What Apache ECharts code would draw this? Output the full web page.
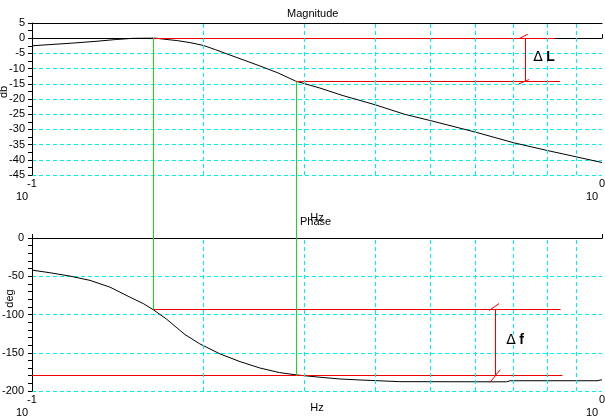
<!DOCTYPE html>
<html><head><meta charset="utf-8">
<script src="https://cdn.jsdelivr.net/npm/echarts@6/dist/echarts.min.js"></script>
<style>html,body{margin:0;padding:0;background:#fff}#c{width:605px;height:420px}</style>
</head><body><div id="c"></div>
<script>
// ---- data ----
const magFreq = [0.1, 0.1075, 0.118, 0.13, 0.14, 0.15, 0.16, 0.165, 0.17, 0.18, 0.19, 0.2, 0.21, 0.22, 0.25, 0.27, 0.29, 0.32, 0.35, 0.4, 0.45, 0.5, 0.6, 0.7, 0.8, 0.9, 1.0];
const magDb   = [-2.5, -2.1, -1.6, -1.0, -0.45, -0.05, 0, 0, -0.3, -0.8, -1.5, -2.4, -3.8, -5.2, -9.0, -11.4, -14.1, -16.4, -18.8, -21.9, -25.0, -27.1, -30.9, -34.4, -36.9, -39.0, -40.9];
const phaseFreq = [0.1, 0.1075, 0.1166, 0.1264, 0.137, 0.1485, 0.157, 0.163, 0.172, 0.179, 0.1855, 0.197, 0.2137, 0.2317, 0.251, 0.272, 0.291, 0.32, 0.347, 0.376, 0.442, 0.68, 0.69, 0.98, 1.0];
const phaseDeg  = [-42, -45.4, -49.8, -55.4, -64.2, -77.3, -86, -93.5, -105.7, -116.6, -126.2, -138.4, -151.5, -161.6, -169.9, -176, -179, -182, -184.3, -185.6, -187.8, -188, -186.6, -186.6, -185.3];
const gridFreq = [0.2, 0.3, 0.4, 0.5, 0.6, 0.7, 0.8, 0.9];
const magAxis = [-45, 5, 5];      // min, max, step
const phaseAxis = [-200, 0, 50];
const titles = ['Magnitude', 'Phase'];
const axisNames = ['db', 'deg', 'Hz'];
// annotations (data values)
const crossFreq = [0.163, 0.291];
const magRef = [0, -14.2];
const magRefEnd = [0.827, 0.844];
const deltaLFreq = 0.733;
const deltaLSlash = [[[0.718, 0], [0.741, 1.3]], [[0.715, -15], [0.745, -13.6]]];
const phaseRef = [-93.4, -180];
const phaseRefStart = [0.163, 0.1];
const phaseRefEnd = [0.846, 0.852];
const deltaFFreq = 0.651;
const deltaFSlash = [[[0.634, -94.8], [0.660, -85.6]], [[0.636, -188.7], [0.663, -172]]];
const deltaLText = [0.791, -6.2, 'L'];
const deltaFText = [0.704, -134, 'f'];

// ---- chart ----
const FONT = '"Liberation Sans", Arial, sans-serif';
const cyan = '#00f0f0', red = '#ee0000', green = '#11dd11';
const chart = echarts.init(document.getElementById('c'));

const seg = (a, b) => [{coord: a}, {coord: b}];
const labelFmt = v => '{s|' + Math.round(Math.log10(v)) + '}\n{b|10}';
const xRich = {
  s: {fontSize: 11, lineHeight: 12, color: '#000', fontFamily: FONT},
  b: {fontSize: 11, lineHeight: 13, color: '#000', fontFamily: FONT, padding: [0, 20, 0, 0]}
};
function xBottom(grid, nameGap) {
  return {type: 'log', logBase: 10, gridIndex: grid, min: 0.1, max: 1, position: 'bottom',
    axisLine: {lineStyle: {color: '#000', width: 1}},
    axisTick: {inside: true, length: 4, lineStyle: {color: '#000'}},
    splitLine: {show: false}, minorTick: {show: false}, minorSplitLine: {show: false},
    axisLabel: {formatter: labelFmt, rich: xRich, margin: 3, showMinLabel: true, showMaxLabel: true},
    name: axisNames[2], nameLocation: 'middle', nameGap: nameGap, nameMoveOverlap: false,
    nameTextStyle: {fontSize: 11, color: '#000', fontFamily: FONT}};
}
function xTop(grid) {
  return {type: 'log', logBase: 10, gridIndex: grid, min: 0.1, max: 1, position: 'top',
    axisLine: {lineStyle: {color: '#000', width: 1}}, axisTick: {show: false},
    axisLabel: {show: false}, splitLine: {show: false}, minorSplitLine: {show: false}};
}
function yAx(grid, ax, minorSplit, name, margin, gap, pad) {
  return {type: 'value', gridIndex: grid, min: ax[0], max: ax[1], interval: ax[2],
    axisLine: {show: true, lineStyle: {color: '#000'}},
    axisTick: {show: true, length: 4, lineStyle: {color: '#000'}},
    minorTick: {show: true, splitNumber: minorSplit, length: 4, lineStyle: {color: '#000'}},
    splitLine: {show: true, lineStyle: {color: cyan, type: [4, 3], width: 1}},
    axisLabel: {color: '#000', fontSize: 11, fontFamily: FONT, margin: margin},
    name: name, nameLocation: 'middle', nameGap: gap, nameMoveOverlap: false,
    nameTextStyle: {fontSize: 11, color: '#000', fontFamily: FONT, padding: pad}};
}
const gridLines = (xi, yi) => ({type: 'line', xAxisIndex: xi, yAxisIndex: yi, data: [], z: 1,
  color: cyan,
  markLine: {silent: true, symbol: 'none', animation: false, label: {show: false},
    lineStyle: {color: cyan, type: [4, 3], width: 1, opacity: 1},
    emphasis: {disabled: true},
    data: gridFreq.map(f => ({xAxis: f, lineStyle: {color: cyan, type: [4, 3], width: 1, opacity: 1}}))}});
const redStyle = {color: red, type: 'solid', width: 1};

const option = {
  animation: false,
  backgroundColor: '#fff',
  title: [
    {text: titles[0], left: 287, top: 8, padding: 0, textStyle: {fontSize: 11, fontWeight: 'normal', color: '#000', fontFamily: FONT}},
    {text: titles[1], left: 300, top: 216, padding: 0, textStyle: {fontSize: 11, fontWeight: 'normal', color: '#000', fontFamily: FONT}}
  ],
  grid: [
    {left: 32, right: 3, top: 23, height: 152, containLabel: false, outerBoundsMode: 'none'},
    {left: 32, right: 3, top: 238, height: 153, containLabel: false, outerBoundsMode: 'none'}
  ],
  xAxis: [xBottom(0, 37), xTop(0), xBottom(1, 11), xTop(1)],
  yAxis: [yAx(0, magAxis, 2, axisNames[0], 7, 23, [0, 0, 0, 14]), yAx(1, phaseAxis, 5, axisNames[1], 8, 17, [0, 0, 0, 32])],
  series: [
    {type: 'line', xAxisIndex: 0, yAxisIndex: 0, z: 3, showSymbol: false, symbol: 'none',
      data: magFreq.map((f, i) => [f, magDb[i]]), lineStyle: {color: '#000', width: 1},
      markLine: {silent: true, symbol: 'none', animation: false, label: {show: false}, lineStyle: redStyle,
        data: [
          seg([crossFreq[0], magRef[0]], [magRefEnd[0], magRef[0]]),
          seg([crossFreq[1], magRef[1]], [magRefEnd[1], magRef[1]]),
          seg([deltaLFreq, magRef[0]], [deltaLFreq, magRef[1]]),
          seg(deltaLSlash[0][0], deltaLSlash[0][1]),
          seg(deltaLSlash[1][0], deltaLSlash[1][1])
        ]}},
    {type: 'line', xAxisIndex: 2, yAxisIndex: 1, z: 3, showSymbol: false, symbol: 'none',
      data: phaseFreq.map((f, i) => [f, phaseDeg[i]]), lineStyle: {color: '#000', width: 1},
      markLine: {silent: true, symbol: 'none', animation: false, label: {show: false}, lineStyle: redStyle,
        data: [
          seg([phaseRefStart[0], phaseRef[0]], [phaseRefEnd[0], phaseRef[0]]),
          seg([phaseRefStart[1], phaseRef[1]], [phaseRefEnd[1], phaseRef[1]]),
          seg([deltaFFreq, phaseRef[0]], [deltaFFreq, phaseRef[1]]),
          seg(deltaFSlash[0][0], deltaFSlash[0][1]),
          seg(deltaFSlash[1][0], deltaFSlash[1][1])
        ]}},
    gridLines(0, 0),
    gridLines(2, 1)
  ]
};
chart.setOption(option);

// green cursor lines spanning both panels, and delta labels, placed via the axes' scales
const px = (s, v) => chart.convertToPixel({seriesIndex: s}, v);
const graphics = [];
[[crossFreq[0], magRef[0], phaseRef[0]], [crossFreq[1], magRef[1], phaseRef[1]]].forEach(c => {
  const a = px(0, [c[0], c[1]]), b = px(1, [c[0], c[2]]);
  const x = Math.round(a[0]) + 0.5;
  graphics.push({type: 'line', z: 20, silent: true, shape: {x1: x, y1: a[1], x2: x, y2: b[1]}, style: {stroke: green, lineWidth: 1}});
});
[[0, deltaLText], [1, deltaFText]].forEach(([s, t]) => {
  const p = px(s, [t[0], t[1]]);
  graphics.push({type: 'text', z: 20, silent: true, x: p[0], y: p[1],
    style: {text: '{d|Δ} {l|' + t[2] + '}', align: 'center', verticalAlign: 'middle',
      rich: {d: {fontSize: 14, fontFamily: '"DejaVu Sans", sans-serif', fill: '#000'},
             l: {fontSize: 14, fontWeight: 'bold', fontFamily: FONT, fill: '#000'}}}});
});
chart.setOption({graphic: graphics});
</script>
</body></html>
